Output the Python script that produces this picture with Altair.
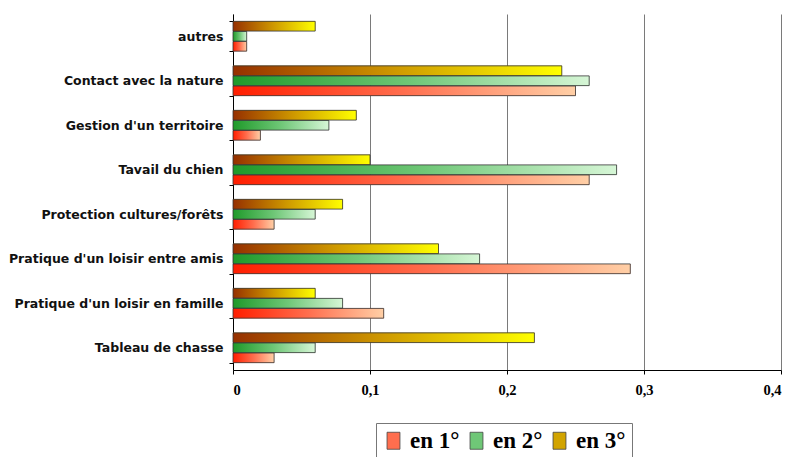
import altair as alt
import pandas as pd

# Reasons for hunting, share of answers ranked 1st, 2nd and 3rd
categories = [
    "autres",
    "Contact avec la nature",
    "Gestion d'un territoire",
    "Tavail du chien",
    "Protection cultures/forêts",
    "Pratique d'un loisir entre amis",
    "Pratique d'un loisir en famille",
    "Tableau de chasse",
]
series = ["en 1°", "en 2°", "en 3°"]
en1 = [0.01, 0.25, 0.02, 0.26, 0.03, 0.29, 0.11, 0.03]
en2 = [0.01, 0.26, 0.07, 0.28, 0.06, 0.18, 0.08, 0.06]
en3 = [0.06, 0.24, 0.09, 0.10, 0.08, 0.15, 0.06, 0.22]
x_ticks = [0, 0.1, 0.2, 0.3, 0.4]

rows = []
for name, vals in zip(series, [en1, en2, en3]):
    for cat, v in zip(categories, vals):
        rows.append({"category": cat, "series": name, "value": v})
df = pd.DataFrame(rows)


def gradient(stops):
    return {
        "gradient": "linear",
        "x1": 0, "y1": 0, "x2": 1, "y2": 0,
        "stops": [{"offset": o, "color": c} for o, c in stops],
    }


grad_red = gradient([(0, "#ff1e00"), (0.5, "#ff6e4e"), (1, "#ffcfa6")])
grad_green = gradient([(0, "#1f9a2a"), (0.5, "#6fc777"), (1, "#d6f6d6")])
grad_yellow = gradient([(0, "#963000"), (0.5, "#cf9a00"), (1, "#ffff00")])

y_enc = alt.Y(
    "category:N",
    sort=categories,
    scale=alt.Scale(paddingInner=0.33, paddingOuter=0.165),
    axis=alt.Axis(
        title=None,
        tickBand="extent",
        tickSize=4,
        tickColor="#000",
        domainColor="#000",
        labelPadding=6,
        labelFont="DejaVu Sans",
        labelFontSize=12.5,
        labelFontWeight="bold",
        labelColor="#111",
        labelLimit=300,
    ),
)
yoff_enc = alt.YOffset("series:N", sort=["en 3°", "en 2°", "en 1°"],
                       scale=alt.Scale(paddingInner=0.03))
x_enc = alt.X(
    "value:Q",
    scale=alt.Scale(domain=[0, 0.4], nice=False),
    axis=alt.Axis(
        title=None,
        values=x_ticks,
        labelExpr="replace(format(datum.value, '~g'), '.', ',')",
        grid=True,
        gridColor="#7a7a7a",
        gridWidth=1,
        domainColor="#000",
        tickColor="#000",
        tickSize=4,
        labelPadding=9,
        labelFont="Liberation Serif",
        labelFontWeight="bold",
        labelFontSize=14.5,
        labelColor="#000",
    ),
)

# Solid bars underneath carry the legend
base = alt.Chart(df).mark_bar().encode(
    y=y_enc,
    yOffset=yoff_enc,
    x=x_enc,
    color=alt.Color(
        "series:N",
        sort=series,
        scale=alt.Scale(domain=series, range=["#ff6e4e", "#6fc777", "#d2a400"]),
        legend=alt.Legend(
            title=None,
            orient="none",
            legendX=143,
            legendY=409,
            direction="horizontal",
            strokeColor="#777",
            fillColor="#fff",
            padding=6,
            symbolType="M-0.76,-1H0.76V1H-0.76Z",
            symbolSize=289,
            symbolStrokeColor="#444",
            symbolStrokeWidth=0.8,
            labelFont="Liberation Serif",
            labelFontWeight="bold",
            labelFontSize=23,
            labelColor="#000",
            labelOffset=5,
            columnPadding=5,
        ),
    ),
)

# Gradient-filled bars drawn on top
shaded = alt.Chart(df).mark_bar(stroke="#333", strokeWidth=0.8).encode(
    y=y_enc,
    yOffset=yoff_enc,
    x=x_enc,
    fill=alt.value(
        grad_yellow,
        condition=[
            {"test": "datum.series === 'en 1°'", "value": grad_red},
            {"test": "datum.series === 'en 2°'", "value": grad_green},
        ],
    ),
)

chart = (
    alt.layer(base, shaded)
    .properties(
        width=548,
        height=356,
        autosize=alt.AutoSizeParams(type="none"),
        padding={"left": 233, "top": 14, "right": 14, "bottom": 87},
        background="#ffffff",
    )
    .configure_view(stroke="transparent")
)

chart.save("out.html", embed_options={"renderer": "svg", "actions": False})
